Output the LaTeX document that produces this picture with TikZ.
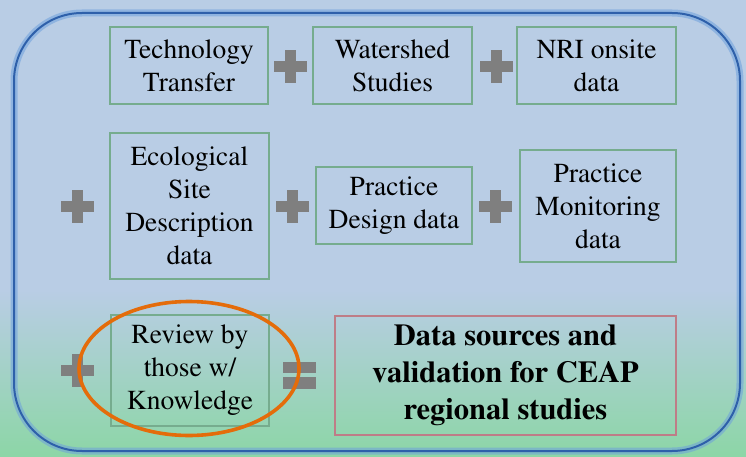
\documentclass[tikz,border=0pt]{standalone}
\usepackage[T1]{fontenc}
\usepackage{times}
\begin{document}
\definecolor{skyblue}{RGB}{185,205,229}
\definecolor{mintgreen}{RGB}{140,214,166}
\definecolor{frameblue}{RGB}{46,96,170}
\definecolor{glowblue}{RGB}{110,160,220}
\definecolor{boxgreen}{RGB}{118,172,142}
\definecolor{boxrose}{RGB}{190,125,135}
\definecolor{signgray}{RGB}{127,127,127}
\definecolor{ringorange}{RGB}{228,108,10}
\begin{tikzpicture}[x=1pt,y=-1pt,
  srcbox/.style={draw=boxgreen,line width=1.2pt,align=center,inner sep=0pt,
    font=\fontsize{27.5}{33}\selectfont},
  resbox/.style={draw=boxrose,line width=1.2pt,align=center,inner sep=0pt,
    font=\fontsize{30.5}{37}\selectfont\bfseries},
  plussign/.pic={\fill[signgray] (-16.5,-5.5) rectangle (16.5,5.5);
                 \fill[signgray] (-5.5,-16.5) rectangle (5.5,16.5);},
  equalsign/.pic={\fill[signgray] (-16.5,-13.5) rectangle (16.5,-2);
                  \fill[signgray] (-16.5,2) rectangle (16.5,13.5);}]
% background
\useasboundingbox (0,0) rectangle (746,457);
\fill[skyblue] (0,0) rectangle (746,457);
\shade[top color=skyblue,bottom color=mintgreen] (0,290) rectangle (746,457.5);
% outer frame with soft glow
\draw[glowblue,line width=7pt,opacity=0.55,rounded corners=68pt] (14,13) rectangle (740,451);
\draw[frameblue,line width=2pt,rounded corners=68pt] (14,13) rectangle (740,451);
% source boxes
\node[srcbox,minimum width=158,minimum height=77] (tech) at (189,65.5) {Technology\\Transfer};
\node[srcbox,minimum width=159,minimum height=77] (water) at (392.5,65.5) {Watershed\\Studies};
\node[srcbox,minimum width=159,minimum height=77] (nri) at (596.5,65.5) {NRI onsite\\data};
\node[srcbox,minimum width=159,minimum height=146] (eco) at (189.5,206) {Ecological\\Site\\Description\\data};
\node[srcbox,minimum width=156,minimum height=77] (design) at (394,205.5) {Practice\\Design data};
\node[srcbox,minimum width=156,minimum height=112] (monitor) at (598,206) {Practice\\Monitoring\\data};
\node[srcbox,minimum width=158,minimum height=111] (review) at (190,370.5) {Review by\\those w/\\Knowledge};
\node[resbox,minimum width=341,minimum height=119] (result) at (505.5,375.5) {Data sources and\\validation for CEAP\\regional studies};
% operators
\pic at (290.5,66.5) {plussign};
\pic at (496.5,66.5) {plussign};
\pic at (77.5,206) {plussign};
\pic at (292.5,206) {plussign};
\pic at (495,206) {plussign};
\pic at (77.5,370) {plussign};
\pic at (299.5,375) {equalsign};
% highlight ring
\draw[ringorange,line width=3.6pt] (189,368.5) ellipse [x radius=110,y radius=67];
\end{tikzpicture}
\end{document}
